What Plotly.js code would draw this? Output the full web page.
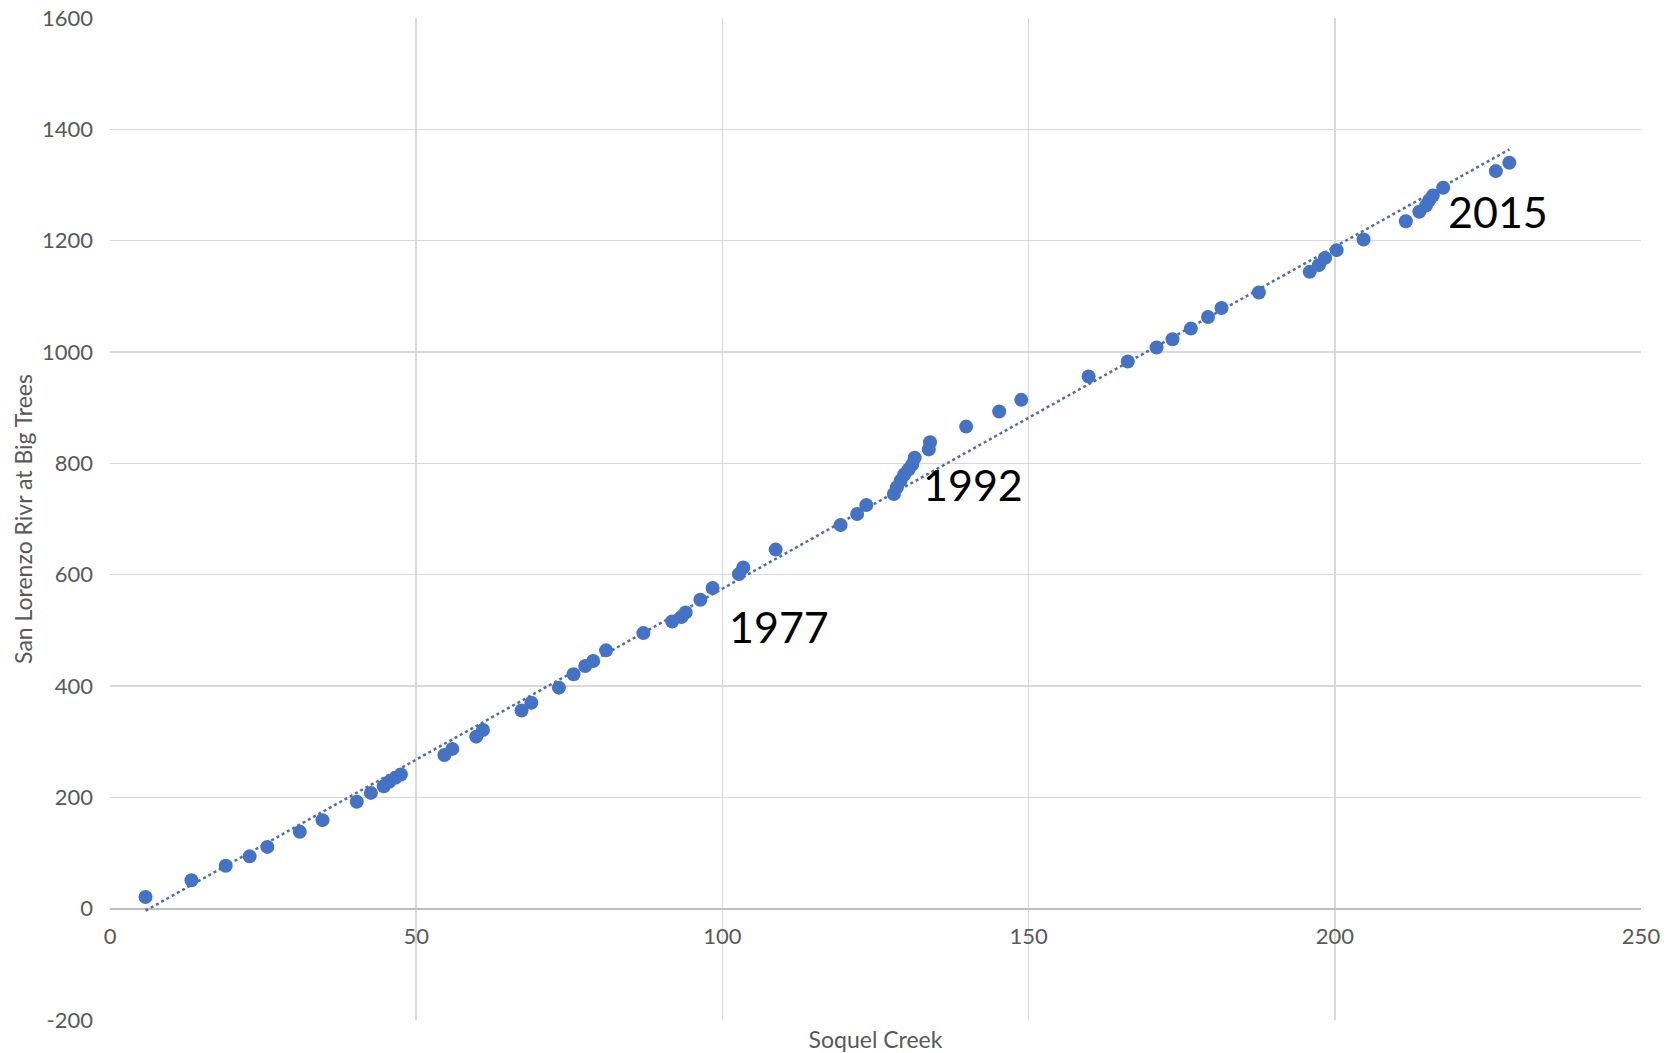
<!DOCTYPE html>
<html>
<head>
<meta charset="utf-8">
<script src="https://cdn.plot.ly/plotly-3.0.1.min.js"></script>
<style>
  html, body { margin: 0; padding: 0; background: #ffffff; }
  #chart { width: 1670px; height: 1053px; }
</style>
</head>
<body>
<div id="chart"></div>
<script>
// Cumulative annual flow: Soquel Creek (x) vs San Lorenzo River at Big Trees (y)
const soquelCreek = [
  5.8, 13.3, 18.9, 22.8, 25.7, 31.0, 34.7, 40.3, 42.6, 44.7,
  45.6, 46.6, 47.5, 54.6, 55.9, 59.8, 60.9, 67.2, 68.8, 73.3,
  75.7, 77.6, 78.9, 81.0, 87.1, 91.8, 93.3, 94.0, 96.4, 98.4,
  102.7, 103.4, 108.7, 119.3, 122.0, 123.5, 128.0, 128.5, 129.1, 129.7,
  130.4, 131.0, 131.4, 133.7, 133.9, 139.8, 145.2, 148.8, 159.8, 166.2,
  170.9, 173.5, 176.5, 179.3, 181.5, 187.6, 195.9, 197.4, 198.4, 200.3,
  204.7, 211.6, 213.8, 214.9, 215.4, 216.0, 217.7, 226.3, 228.5
];
const sanLorenzo = [
  21, 51, 77, 94, 111, 138, 159, 192, 208, 220,
  228, 235, 241, 276, 287, 309, 321, 356, 370, 397,
  421, 436, 445, 464, 495, 516, 524, 532, 555, 576,
  601, 613, 645, 689, 709, 725, 745, 757, 769, 780,
  789, 798, 810, 825, 838, 866, 893, 914, 956, 983,
  1008, 1023, 1042, 1063, 1079, 1107, 1144, 1156, 1169, 1183,
  1202, 1235, 1252, 1263, 1272, 1281, 1295, 1325, 1340
];
const yearLabels = ['1977', '1992', '2015'];

const xTicks = [0, 50, 100, 150, 200, 250];
const yTicks = [-200, 0, 200, 400, 600, 800, 1000, 1200, 1400, 1600];

// Linear least-squares trendline over the series
function linearFit(xs, ys) {
  const n = xs.length;
  let sx = 0, sy = 0, sxx = 0, sxy = 0;
  for (let i = 0; i < n; i++) {
    sx += xs[i]; sy += ys[i];
    sxx += xs[i] * xs[i]; sxy += xs[i] * ys[i];
  }
  const slope = (n * sxy - sx * sy) / (n * sxx - sx * sx);
  const intercept = (sy - slope * sx) / n;
  return { slope, intercept };
}
const fit = linearFit(soquelCreek, sanLorenzo);
const trendX = [Math.min(...soquelCreek), Math.max(...soquelCreek)];
const trendY = trendX.map(v => fit.slope * v + fit.intercept);

const blue = '#4472C4';
const fontFamily = 'Lato, "Liberation Sans", sans-serif';
const tickFont = { family: fontFamily, size: 22, color: '#595959' };
const axisTitleFont = { family: fontFamily, size: 23, color: '#595959' };

const traces = [
  {
    x: trendX, y: trendY,
    type: 'scatter', mode: 'lines',
    line: { color: '#4a6db5', width: 2.5, dash: 'dot' },
    hoverinfo: 'skip', showlegend: false
  },
  {
    x: soquelCreek, y: sanLorenzo,
    type: 'scatter', mode: 'markers',
    marker: { color: blue, size: 14, line: { width: 0 } },
    showlegend: false
  }
];

const labelFont = { family: fontFamily, size: 43, color: '#000000' };
const annotations = [
  { x: 109.2, y: 507, text: yearLabels[0] },
  { x: 141.0, y: 762, text: yearLabels[1] },
  { x: 226.6, y: 1253, text: yearLabels[2] }
].map(a => Object.assign(a, {
  xref: 'x', yref: 'y', showarrow: false, font: labelFont,
  xanchor: 'center', yanchor: 'middle'
}));

const layout = {
  width: 1670, height: 1053,
  margin: { l: 110, r: 29, t: 18, b: 33 },
  paper_bgcolor: '#ffffff', plot_bgcolor: '#ffffff',
  showlegend: false,
  xaxis: {
    range: [0, 250],
    tickvals: xTicks, ticktext: xTicks.map(String),
    tickfont: tickFont,
    ticks: '', ticklabelstandoff: 12,
    showgrid: true, gridcolor: '#d9d9d9', gridwidth: 1.5,
    zeroline: false, showline: false,
    anchor: 'free', position: 200 / 1800,
    title: { text: 'Soquel Creek', font: axisTitleFont, standoff: 85 },
    automargin: false
  },
  yaxis: {
    range: [-200, 1600],
    tickvals: yTicks, ticktext: yTicks.map(String),
    tickfont: tickFont,
    ticks: '', ticklabelstandoff: 16,
    showgrid: true, gridcolor: '#d9d9d9', gridwidth: 1.5,
    zeroline: true, zerolinecolor: '#bfbfbf', zerolinewidth: 2,
    showline: false,
    title: { text: 'San Lorenzo Rivr at Big Trees', font: axisTitleFont, standoff: 2 },
    automargin: false
  },
  annotations: annotations
};

Plotly.newPlot('chart', traces, layout, { staticPlot: true, displayModeBar: false });
</script>
</body>
</html>
